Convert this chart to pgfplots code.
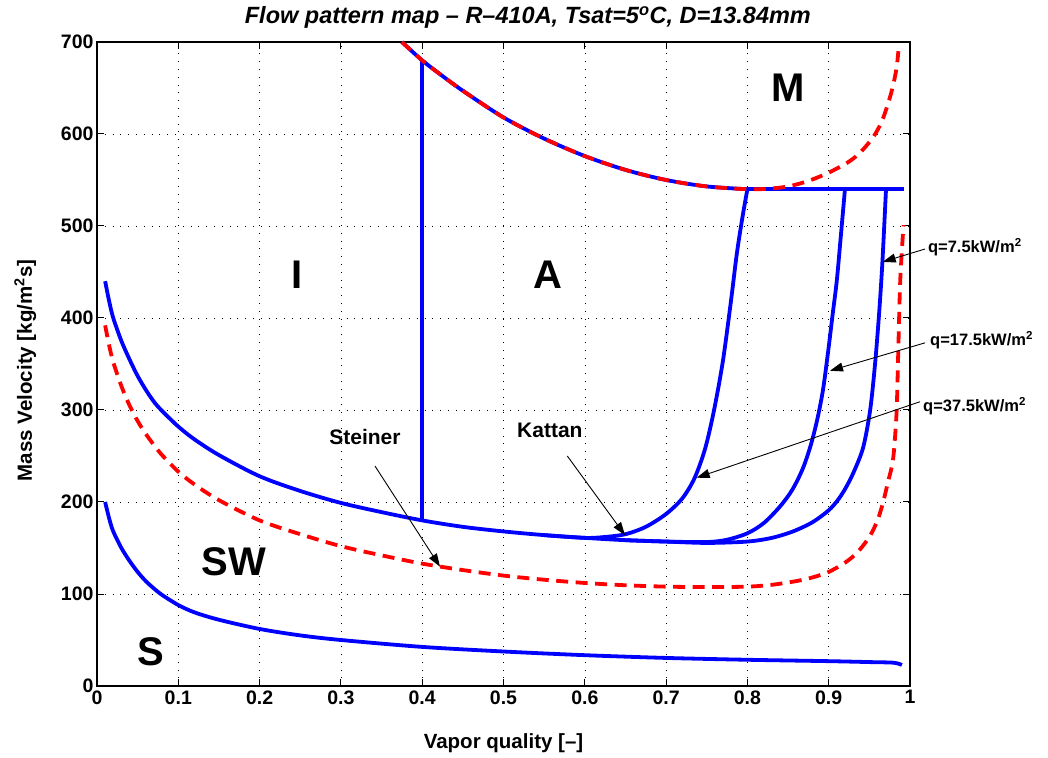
\documentclass[border=0pt]{standalone}
\usepackage{fontspec}
\setmainfont{Liberation Sans}
\usepackage{pgfplots}
\pgfplotsset{compat=1.18}
\usetikzlibrary{arrows.meta}
\definecolor{mblue}{RGB}{0,0,255}
\definecolor{mred}{RGB}{255,0,0}
\begin{document}
\begin{tikzpicture}[
  blue line/.style={mblue, line width=3.8bp},
  red line/.style={mred, line width=3.8bp, dash pattern=on 12bp off 7.5bp},
  lab/.style={font=\fontsize{21bp}{24bp}\selectfont\bfseries},
  reg/.style={font=\fontsize{40bp}{44bp}\selectfont\bfseries},
  qlab/.style={font=\fontsize{16.5bp}{19bp}\selectfont\bfseries, anchor=west, inner sep=0pt},
  arr/.style={black, line width=0.9bp, -{Triangle[length=13bp,width=9bp]}},
]
\useasboundingbox (-97bp,-72bp) rectangle (951bp,686bp);
\begin{axis}[
  at={(0,0)}, anchor=south west,
  scale only axis, width=813bp, height=644bp,
  xmin=0, xmax=1, ymin=0, ymax=700,
  xtick={0,0.1,0.2,0.3,0.4,0.5,0.6,0.7,0.8,0.9,1},
  xticklabels={0,0.1,0.2,0.3,0.4,0.5,0.6,0.7,0.8,0.9,1},
  ytick={0,100,200,300,400,500,600,700},
  yticklabels={0,100,200,300,400,500,600,700},
  /pgf/number format/assume math mode=true,
  tick align=inside,
  major tick length=7bp,
  grid=major,
  major grid style={black, line width=0.6bp, dash pattern=on 0.8bp off 7bp},
  axis line style={line width=1.3bp, black},
  tick style={line width=1bp, black},
  ticklabel style={font=\fontsize{19.5bp}{22bp}\selectfont\bfseries},
  xticklabel style={yshift=-1bp},
  yticklabel style={xshift=0bp},
  clip=false,
]
% S curve
\addplot[blue line, smooth, tension=0.5] coordinates {
 (0.01,200) (0.015,182) (0.02,168) (0.03,150) (0.04,136) (0.05,124) (0.06,114)
 (0.07,106) (0.08,99) (0.1,88) (0.12,80) (0.15,72) (0.2,62) (0.25,55) (0.3,50)
 (0.4,42.5) (0.5,37.5) (0.6,33.5) (0.7,30.5) (0.8,28.5) (0.9,27) (0.95,26)
 (0.98,25.3) (0.99,22.8)};
% Kattan q=7.5
\addplot[blue line, smooth, tension=0.5] coordinates {
 (0.01,440) (0.015,418) (0.02,400) (0.03,375) (0.04,355) (0.05,337) (0.06,322)
 (0.07,309) (0.08,299) (0.1,282) (0.12,268) (0.15,251) (0.2,228) (0.25,212)
 (0.3,199) (0.35,189) (0.4,180) (0.45,173) (0.5,168) (0.55,164) (0.6,161)
 (0.65,158.5) (0.7,157) (0.75,155.5) (0.8,157) (0.83,161) (0.856,168) (0.88,178)
 (0.9,191) (0.912,203) (0.922,217) (0.932,235) (0.9426,260) (0.951,300)
 (0.957,350) (0.962,405) (0.966,460) (0.9705,540)};
% Kattan q=17.5
\addplot[blue line, smooth, tension=0.5] coordinates {
 (0.65,158.5) (0.7,157) (0.75,156.5) (0.775,159) (0.8,166) (0.82,177) (0.84,195)
 (0.855,213) (0.868,236) (0.878,262) (0.886,290) (0.893,322) (0.8995,365)
 (0.905,405) (0.910,441) (0.915,490) (0.920,540)};
% Kattan q=37.5
\addplot[blue line, smooth, tension=0.5] coordinates {
 (0.55,164) (0.6,161) (0.625,162) (0.65,165) (0.675,173) (0.7,187) (0.72,204)
 (0.735,226) (0.748,258) (0.759,300) (0.770,354) (0.78,420) (0.787,470)
 (0.794,510) (0.80,540)};
% I-A boundary
\addplot[blue line] coordinates {(0.4,180) (0.4,679)};
% top boundary (blue)
\addplot[blue line, smooth, tension=0.5] coordinates {
 (0.375,700) (0.4,680) (0.425,663) (0.45,647) (0.5,618) (0.55,595) (0.6,576)
 (0.65,561) (0.7,550) (0.75,543) (0.8,540)};
\addplot[blue line] coordinates {(0.80,540) (0.992,540)};
% Steiner top (red dashed)
\addplot[red line, smooth, tension=0.5] coordinates {
 (0.375,700) (0.4,680) (0.425,663) (0.45,647) (0.5,618) (0.55,595) (0.6,576)
 (0.65,561) (0.7,550) (0.75,543) (0.8,540) (0.825,540.5) (0.85,543) (0.875,549)
 (0.9,558) (0.925,570) (0.94,581) (0.955,597) (0.965,613) (0.973,633)
 (0.979,652) (0.9835,672) (0.9857,690)};
% Steiner bottom (red dashed)
\addplot[red line, smooth, tension=0.5] coordinates {
 (0.01,392) (0.015,370) (0.02,352) (0.03,326) (0.04,305) (0.05,288) (0.06,274)
 (0.07,262) (0.08,251) (0.1,233) (0.12,219) (0.15,202) (0.2,180) (0.25,165)
 (0.3,152) (0.35,142) (0.4,133) (0.45,126) (0.5,120) (0.55,115.5) (0.6,112)
 (0.65,109.5) (0.7,108) (0.75,107.5) (0.8,108) (0.83,110) (0.86,114) (0.88,118)
 (0.9,124) (0.92,134) (0.935,145) (0.95,162) (0.96,180) (0.967,200) (0.973,222)
 (0.978,240) (0.9805,258) (0.9836,300) (0.9856,365) (0.988,441) (0.992,501)};
% annotations
\draw[arr] (axis cs:0.342,239) -- (axis cs:0.4219,129.7);
\draw[arr] (axis cs:0.5785,250) -- (axis cs:0.6494,164);
\draw[arr] (axis cs:1.0185,475) -- (axis cs:0.9664,461);
\draw[arr] (axis cs:1.0185,373) -- (axis cs:0.9016,342.7);
\draw[arr] (axis cs:1.0123,309) -- (axis cs:0.7376,226.4);
\node[lab] at (axis cs:0.3296,271) {Steiner};
\node[lab] at (axis cs:0.557,278) {Kattan};
\node[qlab] at (axis cs:1.022,477) {q=7.5kW/m\textsuperscript{2}};
\node[qlab] at (axis cs:1.0246,376) {q=17.5kW/m\textsuperscript{2}};
\node[qlab] at (axis cs:1.016,304) {q=37.5kW/m\textsuperscript{2}};
\node[reg] at (axis cs:0.850,650) {M};
\node[reg] at (axis cs:0.246,447) {I};
\node[reg] at (axis cs:0.555,447) {A};
\node[reg] at (axis cs:0.168,135) {SW};
\node[reg] at (axis cs:0.066,37) {S};
% title and labels
\node[anchor=base, font=\fontsize{23.5bp}{26bp}\selectfont\bfseries\itshape]
  at ([yshift=18bp]rel axis cs:0.53,1) {Flow pattern map – R–410A, Tsat=5\textsuperscript{o}C, D=13.84mm};
\node[anchor=base, font=\fontsize{20.5bp}{24bp}\selectfont\bfseries]
  at ([yshift=-62bp]rel axis cs:0.5,0) {Vapor quality [–]};
\node[anchor=base, rotate=90, font=\fontsize{20.5bp}{24bp}\selectfont\bfseries]
  at ([xshift=-65bp]rel axis cs:0,0.49) {Mass Velocity [kg/m\textsuperscript{2}s]};
\end{axis}
\end{tikzpicture}
\end{document}
